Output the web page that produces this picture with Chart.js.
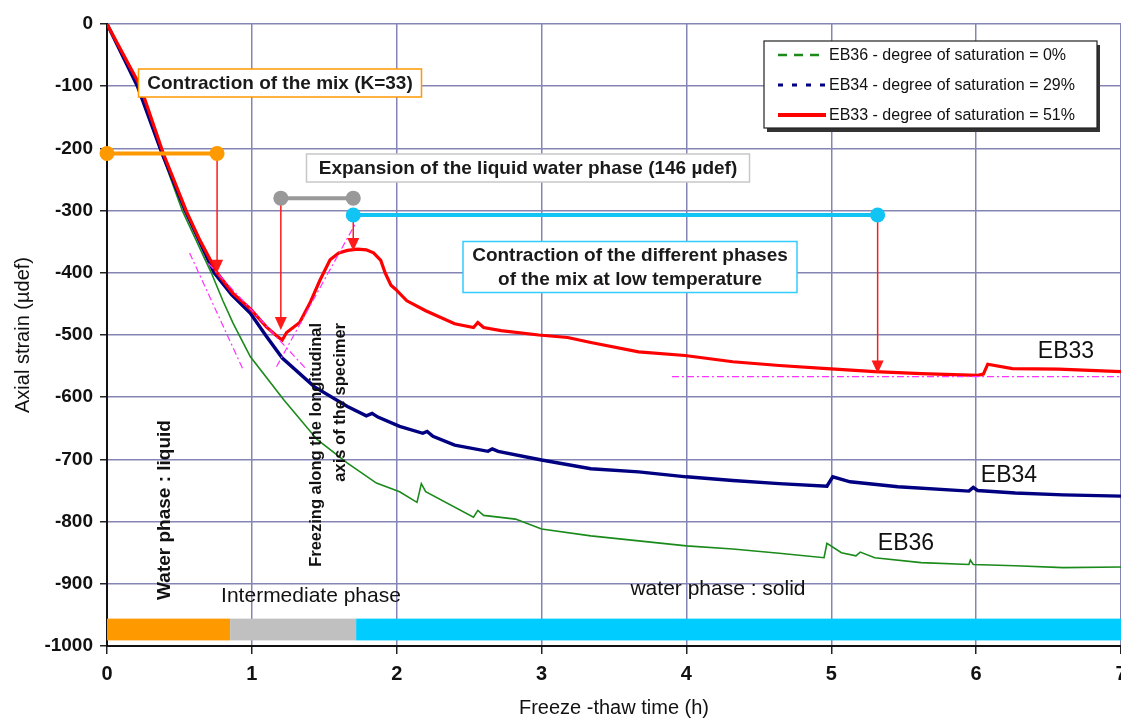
<!DOCTYPE html>
<html>
<head>
<meta charset="utf-8">
<script src="https://cdn.jsdelivr.net/npm/chart.js@4.4.0/dist/chart.umd.min.js"></script>
<style>
  html, body { margin: 0; padding: 0; background: #fff; }
  #wrap { width: 1121px; height: 720px; position: relative; }
</style>
</head>
<body>
<div id="wrap"><canvas id="grafica"></canvas></div>
<script>
// EB33 - degree of saturation 51 %
const eb33Time = [0, 0.23, 0.39, 0.55, 0.64, 0.76, 0.87, 0.99, 1.10, 1.18, 1.21, 1.24, 1.33, 1.40, 1.47, 1.54, 1.60, 1.66, 1.73, 1.79, 1.84, 1.89, 1.92, 1.96, 1.99, 2.07, 2.20, 2.40, 2.53, 2.56, 2.60, 2.72, 2.98, 3.18, 3.34, 3.67, 3.99, 4.32, 4.64, 4.97, 5.30, 5.62, 6.01, 6.05, 6.08, 6.25, 6.57, 7.0];
const eb33Strain = [0, -100, -209, -302, -347, -400, -433, -458, -487, -503, -508, -496, -480, -449, -412, -379, -368, -364, -362, -363, -368, -380, -400, -420, -426, -445, -461, -482, -488, -480, -488, -493, -500, -504, -512, -527, -533, -543, -549, -554, -559, -562, -565, -563, -547, -554, -555, -559];

// EB34 - degree of saturation 29 %
const eb34Time = [0, 0.21, 0.38, 0.54, 0.74, 0.86, 0.99, 1.10, 1.21, 1.43, 1.66, 1.79, 1.83, 1.87, 2.02, 2.18, 2.21, 2.25, 2.40, 2.63, 2.66, 2.70, 3.0, 3.34, 3.67, 4.0, 4.32, 4.64, 4.97, 5.01, 5.13, 5.46, 5.95, 5.98, 6.01, 6.27, 6.60, 7.0];
const eb34Strain = [0, -100, -208, -300, -400, -435, -465, -502, -537, -583, -615, -630, -626, -632, -647, -658, -655, -663, -677, -687, -683, -687, -701, -715, -720, -728, -734, -739, -743, -728, -736, -744, -751, -745, -750, -754, -757, -759];

// EB36 - degree of saturation 0 %
const eb36Time = [0, 0.21, 0.38, 0.52, 0.72, 0.80, 0.87, 0.99, 1.22, 1.45, 1.66, 1.86, 2.02, 2.14, 2.17, 2.20, 2.53, 2.56, 2.60, 2.82, 3.0, 3.34, 3.67, 4.0, 4.32, 4.64, 4.95, 4.97, 5.07, 5.17, 5.20, 5.30, 5.62, 5.95, 5.96, 5.98, 6.27, 6.60, 7.0];
const eb36Strain = [0, -100, -210, -300, -400, -445, -481, -535, -604, -668, -706, -738, -752, -769, -739, -752, -793, -782, -790, -796, -812, -823, -831, -839, -844, -851, -858, -835, -850, -855, -849, -858, -866, -869, -862, -869, -871, -874, -873];

const seriesLabels = [
    "EB36 - degree of saturation = 0%",
    "EB34 - degree of saturation = 29%",
    "EB33 - degree of saturation = 51%"
];

const xTicks = [0, 1, 2, 3, 4, 5, 6, 7];
const yTicks = [0, -100, -200, -300, -400, -500, -600, -700, -800, -900, -1000];

// phase bands at the bottom: [start, end] in hours
const phaseStart = [0, 0.85, 1.72];
const phaseEnd = [0.85, 1.72, 7];
const phaseColor = ["#ff9900", "#c0c0c0", "#00ccff"];

// horizontal markers: [t1, t2, strain, colour]
const markerBars = [
    [0, 0.76, -208, "#ff9900"],
    [1.20, 1.70, -280, "#999999"],
    [1.70, 5.32, -307, "#11c4f4"]
];
// red arrows: [t, from, to]
const arrows = [
    [0.76, -208, -400],
    [1.20, -280, -492],
    [1.70, -307, -365],
    [5.32, -307, -562]
];
// magenta construction lines: [t1, s1, t2, s2]
const guideLines = [
    [0.57, -368, 0.94, -556],
    [0.70, -385, 1.38, -556],
    [1.17, -551, 1.71, -323],
    [3.90, -567, 7.0, -567]
];

const FONT = "'Liberation Sans', Arial, sans-serif";

function toPoints(xs, ys) {
    return xs.map((x, i) => ({ x: x, y: ys[i] }));
}

const notas = {
    id: "notas",
    beforeDatasetsDraw(chart) {
        const ctx = chart.ctx;
        const sx = chart.scales.x, sy = chart.scales.y;
        ctx.save();
        for (let i = 0; i < phaseStart.length; i++) {
            const x1 = sx.getPixelForValue(phaseStart[i]);
            const x2 = sx.getPixelForValue(phaseEnd[i]);
            const y1 = sy.getPixelForValue(-956);
            const y2 = sy.getPixelForValue(-991);
            ctx.fillStyle = phaseColor[i];
            ctx.fillRect(x1, y1, x2 - x1, y2 - y1);
        }
        ctx.restore();
    },
    afterDatasetsDraw(chart) {
        const ctx = chart.ctx;
        const sx = chart.scales.x, sy = chart.scales.y;
        const X = v => sx.getPixelForValue(v);
        const Y = v => sy.getPixelForValue(v);
        ctx.save();

        // magenta dash-dot guides
        ctx.strokeStyle = "#ff33ff";
        ctx.lineWidth = 1.2;
        ctx.setLineDash([7, 3, 2, 3]);
        guideLines.forEach(g => {
            ctx.beginPath();
            ctx.moveTo(X(g[0]), Y(g[1]));
            ctx.lineTo(X(g[2]), Y(g[3]));
            ctx.stroke();
        });
        ctx.setLineDash([]);

        // red arrows
        ctx.strokeStyle = "#ff1a1a";
        ctx.fillStyle = "#ff1a1a";
        ctx.lineWidth = 1.5;
        arrows.forEach(a => {
            const x = X(a[0]), y1 = Y(a[1]), y2 = Y(a[2]);
            ctx.beginPath();
            ctx.moveTo(x, y1);
            ctx.lineTo(x, y2 - 10);
            ctx.stroke();
            ctx.beginPath();
            ctx.moveTo(x - 6, y2 - 13);
            ctx.lineTo(x + 6, y2 - 13);
            ctx.lineTo(x, y2);
            ctx.closePath();
            ctx.fill();
        });

        // bars with dots
        markerBars.forEach(b => {
            const x1 = X(b[0]), x2 = X(b[1]), y = Y(b[2]);
            ctx.strokeStyle = b[3];
            ctx.fillStyle = b[3];
            ctx.lineWidth = 4;
            ctx.beginPath();
            ctx.moveTo(x1, y);
            ctx.lineTo(x2, y);
            ctx.stroke();
            [x1, x2].forEach(x => {
                ctx.beginPath();
                ctx.arc(x, y, 7.5, 0, Math.PI * 2);
                ctx.fill();
            });
        });

        // text boxes
        function boxText(lines, cx, cy, w, h, border) {
            ctx.fillStyle = "#fff";
            ctx.fillRect(cx - w / 2, cy - h / 2, w, h);
            ctx.strokeStyle = border;
            ctx.lineWidth = 1.5;
            ctx.strokeRect(cx - w / 2, cy - h / 2, w, h);
            ctx.fillStyle = "#1a1a1a";
            ctx.font = "bold 19px " + FONT;
            ctx.textAlign = "center";
            ctx.textBaseline = "middle";
            const lh = 24;
            lines.forEach((l, i) => {
                ctx.fillText(l, cx, cy + (i - (lines.length - 1) / 2) * lh + 1);
            });
        }
        boxText(["Contraction of the mix (K=33)"], 280, 83, 283, 28, "#ff9900");
        boxText(["Expansion of the liquid water phase (146 \u00b5def)"], 528, 168, 443, 28, "#c8c8c8");
        boxText(["Contraction of the different phases", "of the mix at low temperature"], 630, 267, 334, 51, "#33ccff");

        // rotated labels
        function vText(txt, x, y, font, align) {
            ctx.save();
            ctx.translate(x, y);
            ctx.rotate(-Math.PI / 2);
            ctx.font = font;
            ctx.fillStyle = "#111";
            ctx.textAlign = align;
            ctx.textBaseline = "middle";
            ctx.fillText(txt, 0, 0);
            ctx.restore();
        }
        vText("Water phase : liquid", 165, 510, "bold 19px " + FONT, "center");
        vText("Freezing along the longitudinal", 316, 323, "bold 16.5px " + FONT, "right");
        vText("axis of the specimer", 340, 323, "bold 16.5px " + FONT, "right");

        // plain labels
        ctx.fillStyle = "#111";
        ctx.textAlign = "center";
        ctx.textBaseline = "middle";
        ctx.font = "21px " + FONT;
        ctx.fillText("Intermediate phase", 311, 596);
        ctx.fillText("water phase : solid", 718, 589);
        ctx.font = "23px " + FONT;
        ctx.fillText("EB33", 1066, 352);
        ctx.fillText("EB34", 1009, 476);
        ctx.fillText("EB36", 906, 544);

        // legend
        ctx.fillStyle = "#333";
        ctx.fillRect(767, 45, 333, 87);
        ctx.fillStyle = "#fff";
        ctx.fillRect(764, 41, 333, 87);
        ctx.strokeStyle = "#222";
        ctx.lineWidth = 1.2;
        ctx.strokeRect(764, 41, 333, 87);
        const ly = [55, 85, 115];
        const lc = ["#1a8a1a", "#000080", "#ff0000"];
        const ld = [[9, 7], [5, 9], []];
        const lw = [2.5, 3, 4];
        for (let i = 0; i < 3; i++) {
            ctx.strokeStyle = lc[i];
            ctx.lineWidth = lw[i];
            ctx.setLineDash(ld[i]);
            ctx.beginPath();
            ctx.moveTo(778, ly[i]);
            ctx.lineTo(826, ly[i]);
            ctx.stroke();
        }
        ctx.setLineDash([]);
        ctx.fillStyle = "#111";
        ctx.font = "16px " + FONT;
        ctx.textAlign = "left";
        for (let i = 0; i < 3; i++) {
            ctx.fillText(seriesLabels[i], 829, ly[i] + 1);
        }
        ctx.restore();
    }
};

const grafica = new Chart("grafica", {
    type: "line",
    data: {
        datasets: [
            {
                label: seriesLabels[2],
                data: toPoints(eb33Time, eb33Strain),
                borderColor: "#ff0000",
                borderWidth: 3.2,
                pointRadius: 0,
                tension: 0
            },
            {
                label: seriesLabels[1],
                data: toPoints(eb34Time, eb34Strain),
                borderColor: "#000080",
                borderWidth: 3.4,
                pointRadius: 0,
                tension: 0
            },
            {
                label: seriesLabels[0],
                data: toPoints(eb36Time, eb36Strain),
                borderColor: "#1a8a1a",
                borderWidth: 1.6,
                pointRadius: 0,
                tension: 0
            }
        ]
    },
    plugins: [notas],
    options: {
        responsive: true,
        maintainAspectRatio: false,
        animation: false,
        layout: { padding: { top: 24, right: 0, bottom: 0, left: 0 } },
        scales: {
            x: {
                type: "linear",
                min: 0,
                max: 7,
                afterBuildTicks: s => { s.ticks = xTicks.map(v => ({ value: v })); },
                afterFit: s => { s.height = 74; s.paddingLeft = 0; s.paddingRight = 0; },
                grid: { color: "#8585b5", lineWidth: 1.5, tickLength: 8, tickColor: "#222" },
                border: { color: "#111", width: 2 },
                ticks: {
                    color: "#111", padding: 8, maxRotation: 0,
                    callback: v => String(v),
                    font: { family: FONT, size: 20, weight: "bold" }
                },
                title: {
                    display: true,
                    text: "Freeze -thaw time (h)",
                    color: "#111",
                    padding: { top: 0, bottom: 0 },
                    font: { family: FONT, size: 20 }
                }
            },
            y: {
                type: "linear",
                min: -1000,
                max: 0,
                afterBuildTicks: s => { s.ticks = yTicks.map(v => ({ value: v })); },
                afterFit: s => { s.width = 107; s.paddingTop = 0; s.paddingBottom = 0; },
                grid: { color: "#8585b5", lineWidth: 1.5, tickLength: 7, tickColor: "#222" },
                border: { color: "#111", width: 2 },
                ticks: {
                    color: "#111", padding: 7,
                    callback: v => String(v),
                    font: { family: FONT, size: 19, weight: "bold" }
                },
                title: {
                    display: true,
                    text: "Axial strain (\u00b5def)",
                    color: "#111",
                    padding: { top: 11, bottom: 0 },
                    font: { family: FONT, size: 20 }
                }
            }
        },
        plugins: {
            legend: { display: false },
            tooltip: { enabled: false }
        }
    }
});
</script>
</body>
</html>
